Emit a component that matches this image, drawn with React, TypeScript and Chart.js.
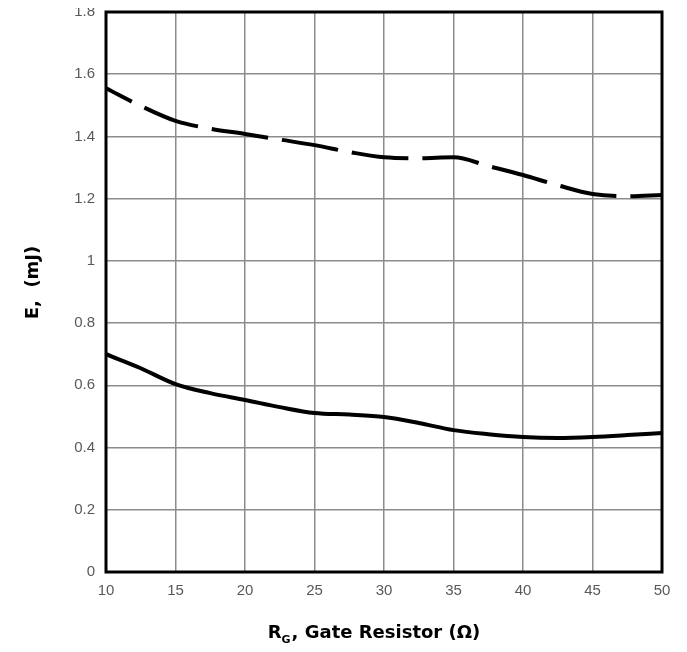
import React, { useEffect, useRef } from "react";
import { Chart, registerables } from "chart.js";

Chart.register(...registerables);

// Gate resistor values (Ω)
const rgValues = [10, 12.5, 15, 17.5, 20, 22.5, 25, 27.5, 30, 32.5, 35, 37.5, 40, 42.5, 45, 47.5, 50];
// Upper (dashed) curve, mJ
const dashedSeries = [1.555, 1.498, 1.45, 1.425, 1.408, 1.39, 1.372, 1.35, 1.333, 1.33, 1.333, 1.305, 1.276, 1.243, 1.215, 1.208, 1.212];
// Lower (solid) curve, mJ
const solidSeries = [0.7, 0.655, 0.604, 0.575, 0.553, 0.53, 0.511, 0.506, 0.498, 0.479, 0.456, 0.443, 0.434, 0.431, 0.434, 0.44, 0.447];

const xTicks = [10, 15, 20, 25, 30, 35, 40, 45, 50];
const yTicks = [0, 0.2, 0.4, 0.6, 0.8, 1, 1.2, 1.4, 1.6, 1.8];

const yTitle = "E,  (mJ)";
const xTitleMain = "R";
const xTitleSub = "G";
const xTitleRest = ", Gate Resistor (Ω)";

const titleFont = "bold 18px 'DejaVu Sans'";
const subFont = "bold 11px 'DejaVu Sans'";

const decorPlugin = {
  id: "decor",
  afterDatasetsDraw(chart: any) {
    const { ctx, chartArea: a } = chart;
    ctx.save();
    ctx.strokeStyle = "#000";
    ctx.lineWidth = 3;
    ctx.strokeRect(a.left, a.top, a.right - a.left, a.bottom - a.top);
    ctx.restore();
  },
  afterDraw(chart: any) {
    const { ctx, chartArea: a } = chart;
    ctx.save();
    ctx.fillStyle = "#000";
    ctx.font = titleFont;
    ctx.textAlign = "center";
    ctx.textBaseline = "alphabetic";
    ctx.translate(38, (a.top + a.bottom) / 2 - 9.5);
    ctx.rotate(-Math.PI / 2);
    ctx.fillText(yTitle, 0, 0);
    ctx.restore();

    ctx.save();
    ctx.fillStyle = "#000";
    ctx.textAlign = "left";
    ctx.textBaseline = "alphabetic";
    ctx.font = titleFont;
    const w1 = ctx.measureText(xTitleMain).width;
    const w3 = ctx.measureText(xTitleRest).width;
    ctx.font = subFont;
    const w2 = ctx.measureText(xTitleSub).width + 1;
    const total = w1 + w2 + w3;
    const cx = 374;
    const base = 638;
    let x = cx - total / 2;
    ctx.font = titleFont;
    ctx.fillText(xTitleMain, x, base);
    x += w1;
    ctx.font = subFont;
    ctx.fillText(xTitleSub, x, base + 5);
    x += w2;
    ctx.font = titleFont;
    ctx.fillText(xTitleRest, x, base);
    ctx.restore();
  },
};

export default function App() {
  const ref = useRef<HTMLCanvasElement | null>(null);

  useEffect(() => {
    if (!ref.current) return;
    const fmt = (v: number) => String(Number(v.toFixed(1)));
    const chart = new Chart(ref.current, {
      type: "line",
      data: {
        datasets: [
          {
            label: "dashed",
            data: rgValues.map((x, i) => ({ x, y: dashedSeries[i] })),
            borderColor: "#000",
            borderWidth: 4,
            borderDash: [57, 14],
            borderDashOffset: 28,
            pointRadius: 0,
            cubicInterpolationMode: "monotone",
            fill: false,
          },
          {
            label: "solid",
            data: rgValues.map((x, i) => ({ x, y: solidSeries[i] })),
            borderColor: "#000",
            borderWidth: 4,
            pointRadius: 0,
            cubicInterpolationMode: "monotone",
            fill: false,
          },
        ],
      },
      options: {
        animation: false,
        responsive: false,
        maintainAspectRatio: false,
        layout: { padding: { top: 12, right: 25, left: 0, bottom: 0 } },
        plugins: { legend: { display: false }, tooltip: { enabled: false } },
        scales: {
          x: {
            type: "linear",
            min: 10,
            max: 50,
            afterBuildTicks: (s: any) => {
              s.ticks = xTicks.map((v) => ({ value: v }));
            },
            afterFit: (s: any) => {
              s.height = 80;
              s.paddingLeft = 0;
              s.paddingRight = 0;
            },
            grid: { color: "#8c8c8c", lineWidth: 1.5, drawTicks: false },
            border: { display: false },
            ticks: {
              padding: 10,
              color: "#595959",
              font: { family: "'Liberation Sans', Arial", size: 15 },
              callback: (v: any) => fmt(Number(v)),
              maxRotation: 0,
            },
          },
          y: {
            type: "linear",
            min: 0,
            max: 1.8,
            afterBuildTicks: (s: any) => {
              s.ticks = yTicks.map((v) => ({ value: v }));
            },
            afterFit: (s: any) => {
              s.width = 106;
              s.paddingTop = 0;
              s.paddingBottom = 0;
            },
            grid: { color: "#8c8c8c", lineWidth: 1.5, drawTicks: false },
            border: { display: false },
            ticks: {
              padding: 11,
              color: "#595959",
              font: { family: "'Liberation Sans', Arial", size: 15 },
              callback: (v: any) => fmt(Number(v)),
            },
          },
        },
      },
      plugins: [decorPlugin],
    } as any);
    return () => chart.destroy();
  }, []);

  return (
    <div style={{ width: 687, height: 652, margin: -8 }}>
      <canvas ref={ref} width={687} height={652} style={{ display: "block", width: 687, height: 652 }} />
    </div>
  );
}
